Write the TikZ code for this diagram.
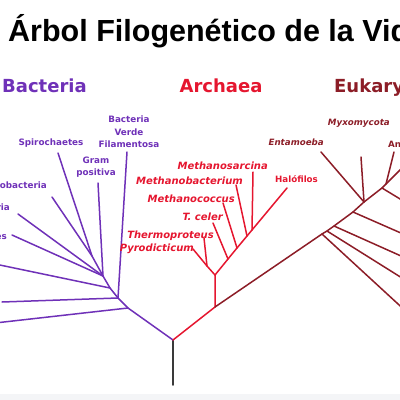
\documentclass[tikz,border=0pt]{standalone}
\usepackage{fontspec}
\setmainfont{DejaVu Sans}
\newfontfamily\titlefont{Liberation Sans}
\usetikzlibrary{positioning}
\definecolor{bactpurple}{HTML}{6F31B8}
\definecolor{archred}{HTML}{E5162F}
\definecolor{eukred}{HTML}{8C1D27}
\definecolor{rootgray}{HTML}{3A3A3A}
\definecolor{stripgray}{HTML}{F4F5F7}

\begin{document}
\begin{tikzpicture}[x=1pt,y=-1pt,
      branch/.style={line width=1.5pt,line cap=round,line join=round},
      bact/.style={branch,draw=bactpurple},
      arch/.style={branch,draw=archred},
      euk/.style={branch,draw=eukred},
      blab/.style={text=bactpurple,font=\bfseries\fontsize{8.8}{12.5}\selectfont,align=center,inner sep=1pt},
      alab/.style={text=archred,font=\bfseries\itshape\fontsize{10}{12}\selectfont,inner sep=0pt},
      elab/.style={text=eukred,font=\bfseries\itshape\fontsize{8.7}{11}\selectfont,inner sep=0pt},
      grp/.style={font=\bfseries\fontsize{18}{21}\selectfont,inner sep=0pt}]
    \useasboundingbox (0,0) rectangle (400,400);
    \fill[stripgray] (0,394) rectangle (400,400);
    \clip (0,0) rectangle (400,394);

    \node[anchor=base west,inner sep=0pt,font=\titlefont\bfseries\fontsize{30.5}{36}\selectfont] (title) at (8,41)
      {Árbol Filogenético de la Vida};
    \node[grp,text=bactpurple,anchor=base west] (bacteria) at (2,92) {Bacteria};
    \node[grp,text=archred,anchor=base] (archaea) at (221,92) {Archaea};
    \node[grp,text=eukred,anchor=base west] (eukarya) at (334,92) {Eukarya};

    \coordinate (base) at (173,385);
    \coordinate (root) at (173,340);
    \draw[branch,draw=rootgray] (base) -- (root);

    \coordinate (b1) at (128,308);
    \coordinate (b2) at (118,298);
    \coordinate (b3) at (110,288);
    \coordinate (b4) at (103,276);
    \coordinate (b5) at (92,256);
    \coordinate (aquifex) at (-5,323);
    \coordinate (thermotoga) at (2,302);
    \coordinate (bacteroides) at (-5,264);
    \coordinate (plancto) at (12,235);
    \coordinate (cyano) at (18,214);
    \coordinate (proteo) at (52,197);
    \coordinate (spiro) at (58,153);
    \coordinate (gram) at (98,183);
    \coordinate (verde) at (127,152);
    \draw[bact] (root) -- (b1) -- (b2) -- (b3) -- (b4) -- (b5);
    \draw[bact] (b1) -- (aquifex);
    \draw[bact] (b2) -- (thermotoga);
    \draw[bact] (b2) -- (verde);
    \draw[bact] (b3) -- (bacteroides);
    \draw[bact] (b4) -- (plancto);
    \draw[bact] (b4) -- (cyano);
    \draw[bact] (b4) -- (gram);
    \draw[bact] (b5) -- (proteo);
    \draw[bact] (b5) -- (spiro);

    \node[blab,anchor=south] (verdelab) at (129,149) {Bacteria\\Verde\\Filamentosa};
    \node[blab,anchor=south] (gramlab) at (96,179) {Gram\\positiva};
    \node[blab] (spirolab) at (51,143) {Spirochaetes};
    \node[blab,anchor=east] (proteolab) at (48,185) {Proteobacteria};
    \node[blab,anchor=east] (cyanolab) at (11,208) {Cyanobacteria};
    \node[blab,anchor=east] (planctolab) at (8,237) {Planctomycetes};

    \coordinate (a1) at (215,307);
    \coordinate (a2) at (215,275);
    \coordinate (a3) at (207,266);
    \coordinate (a4) at (228,259);
    \coordinate (a5) at (237,248);
    \coordinate (a6) at (247,236);
    \coordinate (a7) at (252,230);
    \coordinate (pyro) at (193,249);
    \coordinate (thermo) at (204,238);
    \coordinate (tceler) at (213,223);
    \coordinate (mcoccus) at (223,203);
    \coordinate (mbact) at (236,185);
    \coordinate (msarc) at (253,172);
    \coordinate (halo) at (287,188);
    \draw[arch] (root) -- (a1) -- (a2) -- (a3) -- (pyro);
    \draw[arch] (a3) -- (thermo);
    \draw[arch] (a2) -- (a4) -- (a5) -- (a6) -- (a7) -- (halo);
    \draw[arch] (a4) -- (tceler);
    \draw[arch] (a5) -- (mcoccus);
    \draw[arch] (a6) -- (mbact);
    \draw[arch] (a7) -- (msarc);

    \node[alab,anchor=east] (msarclab) at (268,166) {Methanosarcina};
    \node[alab,anchor=east] (mbactlab) at (243,181) {Methanobacterium};
    \node[alab,anchor=east] (mcoccuslab) at (235,199) {Methanococcus};
    \node[alab,anchor=east] (tcelerlab) at (223,217) {T. celer};
    \node[alab,anchor=east] (thermolab) at (214,236) {Thermoproteus};
    \node[alab,anchor=east] (pyrolab) at (194,249) {Pyrodicticum};
    \node[elab,text=archred,font=\bfseries\fontsize{8.7}{11}\selectfont,anchor=west] (halolab) at (275,179) {Halófilos};

    \coordinate (e1) at (322,234);
    \coordinate (e1b) at (327,231);
    \coordinate (e2) at (334,226);
    \coordinate (e3) at (353,212);
    \coordinate (e4) at (364,202);
    \coordinate (e5) at (382,188);
    \coordinate (e6) at (386,184);
    \coordinate (eend) at (404,166);
    \coordinate (leafa) at (410,315);
    \coordinate (leafb) at (410,283);
    \coordinate (leafc) at (410,260);
    \coordinate (leafd) at (410,237);
    \coordinate (leafe) at (410,205);
    \coordinate (entamoeba) at (321,152);
    \coordinate (myxo) at (361,157);
    \coordinate (animal) at (394,152);
    \draw[euk] (a1) -- (e1) -- (e1b) -- (e2) -- (e3) -- (e4) -- (e5) -- (e6) -- (eend);
    \draw[euk] (e1) -- (leafa);
    \draw[euk] (e1b) -- (leafb);
    \draw[euk] (e2) -- (leafc);
    \draw[euk] (e3) -- (leafd);
    \draw[euk] (e5) -- (leafe);
    \draw[euk] (e4) -- (entamoeba);
    \draw[euk] (e4) -- (myxo);
    \draw[euk] (e6) -- (animal);

    \node[elab,anchor=east] (myxolab) at (390,123) {Myxomycota};
    \node[elab,anchor=east] (entamoebalab) at (324,142) {Entamoeba};
    \node[elab,font=\bfseries\fontsize{8.7}{11}\selectfont,anchor=west] (animallab) at (388,144) {Animales};
  \end{tikzpicture}
\end{document}
